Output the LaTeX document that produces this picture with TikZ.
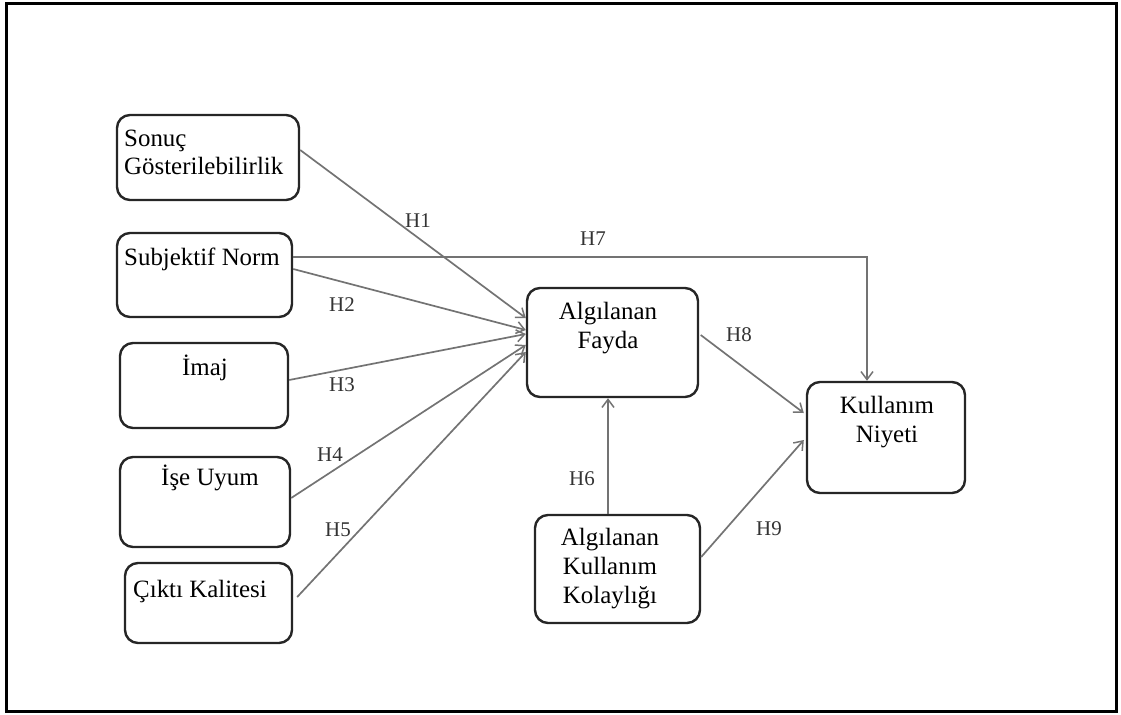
\documentclass[tikz,border=0pt]{standalone}
\usepackage{fontspec}
\setmainfont{Liberation Serif}
\usetikzlibrary{arrows.meta,calc}
\begin{document}
\begin{tikzpicture}[x=1bp,y=-1bp,
  box/.style={draw=black!85, line width=2.4bp, rounded corners=13bp, fill=white, inner sep=0pt},
  txt/.style={font=\fontsize{25}{29}\selectfont, align=center, inner sep=0pt, anchor=base},
  conn/.style={draw=black!55, line width=1.7bp, -{Straight Barb[length=8bp,width=12bp,line width=1.5bp]}},
  hl/.style={font=\fontsize{21}{23}\selectfont, text=black!80, inner sep=0pt}]
\useasboundingbox (0,0) rectangle (1121,715);
\draw[line width=3bp] (6,4) rectangle (1116,711);

% boxes
\node[box, minimum width=182bp, minimum height=85bp] (sonuc) at (208,157.5) {};
\node[box, minimum width=175bp, minimum height=84bp] (subj) at (204.5,275) {};
\node[box, minimum width=168bp, minimum height=85bp] (imaj) at (204,385.5) {};
\node[box, minimum width=170bp, minimum height=90bp] (ise) at (205,502) {};
\node[box, minimum width=167bp, minimum height=80bp] (cikti) at (208.5,603) {};
\node[box, minimum width=171bp, minimum height=109bp] (fayda) at (612.5,342.5) {};
\node[box, minimum width=158bp, minimum height=111bp] (niyet) at (886,437.5) {};
\node[box, minimum width=165bp, minimum height=108bp] (kolay) at (617.5,569) {};

% box texts (base = baseline of last line)
\node[txt, anchor=base west, align=left] (tsonuc) at (124,175) {Sonuç\\Gösterilebilirlik};
\node[txt, anchor=base west] (tsubj) at (124,265) {Subjektif Norm};
\node[txt] (timaj) at (205,375) {İmaj};
\node[txt] (tise) at (210,485) {İşe Uyum};
\node[txt] (tcikti) at (200,597) {Çıktı Kalitesi};
\node[txt] (tfayda) at (608,348) {Algılanan\\Fayda};
\node[txt] (tniyet) at (887,442) {Kullanım\\Niyeti};
\node[txt] (tkolay) at (610,603) {Algılanan\\Kullanım\\Kolaylığı};

% connector anchors
\coordinate (s1) at ($(sonuc.east)+(0,-7.5)$);
\coordinate (e1) at ($(fayda.west)+(0,-24.5)$);
\coordinate (s7) at ($(subj.east)+(0,-18)$);
\coordinate (s2) at ($(subj.east)+(0,-6)$);
\coordinate (e2) at ($(fayda.west)+(0,-12.5)$);
\coordinate (s3) at ($(imaj.east)+(0,-5.5)$);
\coordinate (e3) at ($(fayda.west)+(0,-8.5)$);
\coordinate (s4) at ($(ise.east)+(0,-4)$);
\coordinate (e4) at ($(fayda.west)+(0,2.5)$);
\coordinate (s5) at ($(cikti.east)+(4,-6)$);
\coordinate (e5) at ($(fayda.west)+(0,9.5)$);
\coordinate (s6) at ($(kolay.north)+(-9.5,0)$);
\coordinate (n7) at ($(niyet.north)+(-19,0)$);
\coordinate (s8) at ($(fayda.east)+(1.5,-7.5)$);
\coordinate (e8) at ($(niyet.west)+(-2,-24.5)$);
\coordinate (s9) at ($(kolay.east)+(0,-12)$);
\coordinate (e9) at ($(niyet.west)+(-2,2.5)$);

% connectors
\draw[conn] (s1) -- (e1);
\draw[conn] (s7) -| (n7);
\draw[conn] (s2) -- (e2);
\draw[conn] (s3) -- (e3);
\draw[conn] (s4) -- (e4);
\draw[conn] (s5) -- (e5);
\draw[conn] (s6) -- (s6 |- fayda.south);
\draw[conn] (s8) -- (e8);
\draw[conn] (s9) -- (e9);

% labels
\node[hl] (h1) at (418,221) {H1};
\node[hl] (h2) at (342,305) {H2};
\node[hl] (h3) at (342,385) {H3};
\node[hl] (h4) at (330,455) {H4};
\node[hl] (h5) at (338,530) {H5};
\node[hl] (h6) at (582,479) {H6};
\node[hl] (h7) at (593,239) {H7};
\node[hl] (h8) at (739,335) {H8};
\node[hl] (h9) at (769,529) {H9};
\end{tikzpicture}
\end{document}
